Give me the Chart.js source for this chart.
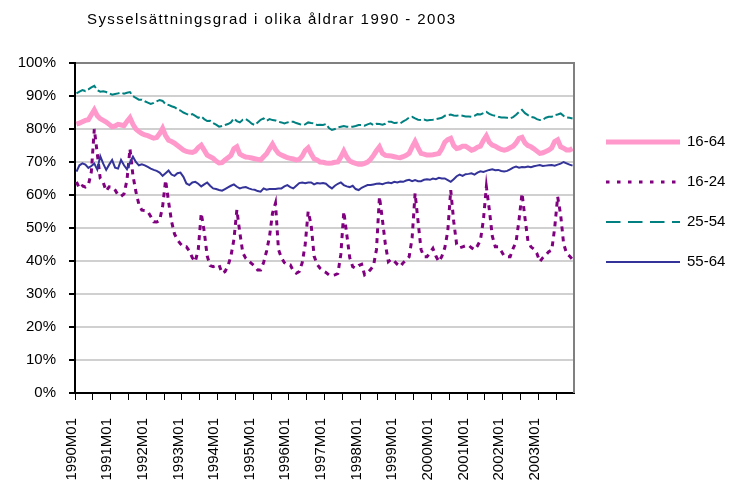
<!DOCTYPE html>
<html>
<head>
<meta charset="utf-8">
<script src="https://cdn.jsdelivr.net/npm/chart.js@4/dist/chart.umd.min.js"></script>
<style>
  html, body { margin: 0; padding: 0; background: #fff; }
  canvas { display: block; }
</style>
</head>
<body>
<canvas id="chart" width="733" height="486"></canvas>
<script>
// Sysselsättningsgrad (employment rate, %) per month, 1990M01 - 2003M12
const years = [1990, 1991, 1992, 1993, 1994, 1995, 1996, 1997, 1998, 1999, 2000, 2001, 2002, 2003];
const months = ["01", "02", "03", "04", "05", "06", "07", "08", "09", "10", "11", "12"];
const labels = [];
years.forEach((y) => months.forEach((m) => labels.push(y + "M" + m)));

const seriesNames = ["16-64", "16-24", "25-54", "55-64"];

// one row per year
const age1664 = [
  81.5, 81.8, 82.2, 82.6, 82.8, 84.3, 85.8, 84.0, 83.1, 82.6, 82.1, 81.4,
  80.7, 80.9, 81.4, 81.2, 81.0, 82.3, 83.4, 81.4, 80.0, 79.2, 78.6, 78.2,
  78.0, 77.6, 77.2, 77.4, 78.6, 80.2, 78.0, 76.6, 76.2, 75.7, 75.0, 74.3,
  73.6, 73.2, 73.0, 72.9, 73.3, 74.4, 75.1, 73.6, 72.1, 71.6, 71.1, 70.3,
  69.7, 69.8, 70.6, 71.3, 72.0, 74.0, 74.6, 72.4, 71.9, 71.5, 71.4, 71.2,
  71.0, 70.8, 70.6, 71.6, 72.5, 74.0, 75.4, 73.8, 72.6, 72.1, 71.7, 71.3,
  71.1, 70.9, 70.6, 70.8, 71.8, 73.5, 74.3, 72.5, 71.0, 70.6, 70.0, 69.9,
  69.7, 69.6, 69.7, 69.9, 70.0, 71.5, 73.3, 71.5, 70.3, 69.9, 69.6, 69.3,
  69.3, 69.6, 70.0, 70.8, 72.0, 73.4, 74.6, 72.6, 72.0, 71.9, 71.8, 71.6,
  71.4, 71.3, 71.6, 72.0, 72.6, 74.5, 76.2, 74.3, 72.6, 72.4, 72.1, 72.1,
  72.2, 72.4, 72.6, 74.0, 76.0, 76.8, 77.2, 75.0, 74.1, 74.3, 74.8, 74.8,
  74.2, 73.6, 73.9, 74.5, 74.8, 76.5, 77.9, 76.0, 75.1, 74.8, 74.2, 73.8,
  73.6, 73.8, 74.3, 74.8, 75.8, 77.2, 77.5, 75.8, 75.0, 74.6, 74.0, 73.3,
  72.6, 72.8, 73.2, 73.6, 74.3, 76.2, 76.7, 74.6, 74.2, 73.6, 73.6, 74.1
];

const age1624 = [
  64.0, 62.0, 62.8, 62.4, 63.0, 67.0, 80.0, 72.5, 65.0, 63.8, 61.2, 62.5,
  62.4, 61.5, 60.0, 59.6, 60.3, 64.5, 74.0, 66.0, 61.0, 57.2, 55.4, 55.3,
  55.0, 53.5, 51.9, 51.8, 52.3, 56.5, 64.5, 58.0, 52.0, 48.2, 46.4, 45.2,
  44.3, 44.3, 43.0, 41.0, 39.8, 43.5, 54.5, 49.0, 41.5, 38.6, 38.3, 38.6,
  38.8, 36.3, 36.8, 38.5, 41.5, 46.5, 55.5, 48.5, 42.5, 40.8, 40.0, 39.2,
  38.5, 37.3, 37.3, 39.5, 43.0, 47.5, 54.5, 57.5, 43.5, 41.0, 39.5, 38.8,
  38.8, 37.0, 36.3, 36.8, 39.5, 45.0, 55.0, 51.0, 41.5, 39.0, 37.8, 37.0,
  36.5, 35.8, 35.6, 35.8, 36.2, 42.0, 55.0, 48.0, 41.0, 38.3, 37.8, 38.6,
  39.0, 35.8, 36.4, 37.4, 38.6, 43.5, 59.5, 52.5, 45.0, 39.8, 40.6, 40.0,
  39.0, 38.3, 39.5, 40.3, 41.3, 47.0, 60.5, 52.0, 43.5, 41.3, 41.3, 42.5,
  43.8, 41.5, 39.8, 41.4, 44.0, 49.0, 61.5, 52.0, 45.0, 44.0, 44.3, 44.6,
  44.8, 44.0, 43.4, 44.6, 46.3, 52.5, 62.5, 55.5, 47.5, 44.3, 44.3, 43.0,
  41.5, 41.3, 41.3, 43.8, 45.8, 52.5, 60.5, 53.0, 46.0, 44.3, 43.6, 42.3,
  39.8, 41.0, 41.8, 42.8, 43.3, 50.0, 59.5, 54.0, 45.3, 42.3, 41.5, 40.5
];

const age2554 = [
  90.8, 91.3, 91.8, 91.5, 92.0, 92.6, 93.1, 91.8, 91.3, 91.4, 91.2, 90.8,
  90.4, 90.6, 90.8, 91.0, 90.7, 91.0, 91.2, 90.0, 89.4, 88.9, 88.9, 88.4,
  88.0, 87.6, 87.9, 88.4, 88.8, 88.5, 87.5, 87.3, 86.9, 86.6, 86.0, 85.6,
  85.0, 84.6, 84.2, 84.5, 84.0, 83.4, 83.8, 83.0, 82.4, 82.5, 81.8, 81.3,
  80.7, 80.9, 81.2, 81.5, 82.0, 83.2, 82.4, 82.0, 82.8, 83.0, 82.4, 81.6,
  81.2, 82.0, 82.8, 83.2, 82.5, 83.0, 82.7, 82.6, 82.2, 82.0, 81.7, 82.0,
  82.2, 82.2, 81.8, 81.5, 81.2, 81.4, 82.0, 81.8, 81.7, 81.2, 81.3, 81.2,
  81.5, 80.3, 79.7, 80.0, 80.5, 80.7, 80.9, 80.7, 80.6, 80.7, 80.9, 81.2,
  81.2, 81.0, 81.4, 81.7, 81.2, 81.6, 81.5, 81.3, 81.6, 82.2, 82.2, 81.8,
  81.9, 81.7, 82.3, 82.8, 83.5, 83.7, 83.2, 82.8, 82.7, 82.9, 82.6, 82.7,
  82.8, 83.0, 83.2, 83.4, 84.0, 84.2, 84.4, 84.1, 84.0, 84.2, 84.0, 83.8,
  83.8, 83.7, 84.0, 84.5, 84.4, 84.8, 85.2, 84.6, 84.2, 84.0, 83.7, 83.5,
  83.5, 83.4, 83.2, 83.6, 84.3, 85.2, 85.8, 84.8, 84.2, 83.7, 83.5, 83.0,
  82.7, 82.8, 83.4, 83.7, 83.7, 84.2, 84.4, 84.7, 84.0, 83.5, 83.4, 83.2
];

const age5564 = [
  67.1, 69.0, 69.6, 69.2, 68.2, 68.8, 69.5, 67.7, 71.8, 69.5, 67.6, 69.2,
  70.6, 68.3, 68.0, 70.6, 69.0, 67.8, 69.8, 71.6, 70.0, 69.0, 69.3, 69.0,
  68.5, 68.0, 67.6, 67.3, 66.8, 65.8, 66.6, 67.4, 66.2, 65.8, 66.6, 66.8,
  65.5, 63.5, 63.0, 63.8, 64.0, 63.4, 62.6, 63.2, 63.8, 62.8, 62.0, 61.8,
  61.5, 61.3, 61.8, 62.3, 62.8, 63.2, 62.5, 62.0, 62.3, 62.4, 62.0, 61.7,
  61.6, 61.2, 61.0, 62.0, 61.6, 61.8, 61.8, 61.8, 62.0, 62.0, 62.6, 63.0,
  62.4, 62.0, 62.8, 63.6, 63.8, 63.6, 63.8, 63.8, 63.2, 63.6, 63.5, 63.6,
  63.4, 62.6, 62.0, 62.8, 63.4, 63.8, 63.0, 62.6, 62.4, 62.8, 61.8, 61.5,
  62.2, 62.6, 63.0, 63.0, 63.2, 63.4, 63.5, 63.3, 63.6, 63.8, 63.6, 64.0,
  63.8, 64.1, 64.0, 64.4, 64.6, 64.2, 64.5, 64.2, 64.2, 64.6, 64.8, 64.6,
  65.0, 64.8, 65.2, 65.0, 65.0, 64.5, 64.0, 64.8, 65.7, 66.2, 65.8, 66.3,
  66.4, 66.6, 66.2, 66.8, 67.2, 67.0, 67.3, 67.6, 67.8, 67.5, 67.6, 67.3,
  67.1, 67.3, 67.8, 68.3, 68.6, 68.3, 68.5, 68.4, 68.6, 68.4, 68.7, 68.9,
  69.1, 68.8, 68.9, 69.0, 69.1, 68.9, 69.2, 69.5, 70.0, 69.6, 69.2, 68.9
];

const yTicks = [0, 10, 20, 30, 40, 50, 60, 70, 80, 90, 100];
const titleText = "Sysselsättningsgrad i olika åldrar 1990 - 2003";

const FONT = '"Liberation Sans", Arial, sans-serif';
Chart.defaults.font.family = FONT;
Chart.defaults.font.size = 15;
Chart.defaults.color = "#000";

// title, year labels, legend and plot border, placed where Excel put them
const decorations = {
  id: "decorations",
  afterDraw(chart) {
    const ctx = chart.ctx;
    const area = chart.chartArea;
    const xScale = chart.scales.x;
    ctx.save();

    // right border of plot area
    ctx.strokeStyle = "#808080";
    ctx.lineWidth = 2;
    ctx.beginPath();
    ctx.moveTo(area.right, area.top - 1);
    ctx.lineTo(area.right, area.bottom);
    ctx.stroke();

    ctx.font = "15px " + FONT;
    ctx.fillStyle = "#000";

    // title, spread letter by letter over the same width as the original
    ctx.textBaseline = "middle";
    ctx.textAlign = "left";
    const chars = Array.from(titleText);
    const plain = chars.reduce((s, ch) => s + ctx.measureText(ch).width, 0);
    const gap = (368 - plain) / (chars.length - 1);
    let tx = 87;
    chars.forEach((ch) => {
      ctx.fillText(ch, tx, 20);
      tx += ctx.measureText(ch).width + gap;
    });

    // x labels: one per year, rotated
    labels.forEach((lab, i) => {
      if (i % 12 !== 0) return;
      const x = xScale.getPixelForValue(i) - 5;
      ctx.save();
      ctx.translate(x, 418);
      ctx.rotate(-Math.PI / 2);
      ctx.textAlign = "right";
      ctx.textBaseline = "middle";
      ctx.fillText(lab, 0, 0);
      ctx.restore();
    });

    // legend
    const legendY = [142, 182, 222, 262];
    const legendDash = [[], [3.5, 7.5], [14.5, 7.5], []];
    ctx.textAlign = "left";
    ctx.textBaseline = "middle";
    chart.data.datasets.forEach((ds, i) => {
      const y = legendY[i];
      ctx.strokeStyle = ds.borderColor;
      ctx.lineWidth = ds.borderWidth;
      ctx.lineCap = "butt";
      ctx.setLineDash(legendDash[i]);
      ctx.beginPath();
      ctx.moveTo(606, y);
      ctx.lineTo(680, y);
      ctx.stroke();
      ctx.setLineDash([]);
      ctx.fillText(ds.label, 687, y);
    });

    ctx.restore();
  }
};

new Chart(document.getElementById("chart"), {
  type: "line",
  data: {
    labels: labels,
    datasets: [
      {
        label: seriesNames[0],
        data: age1664,
        borderColor: "#ff99cc",
        borderWidth: 5,
        order: 4
      },
      {
        label: seriesNames[1],
        data: age1624,
        borderColor: "#800080",
        borderWidth: 3,
        borderDash: [5, 5],
        order: 3
      },
      {
        label: seriesNames[2],
        data: age2554,
        borderColor: "#008080",
        borderWidth: 2,
        borderDash: [10, 3],
        order: 2
      },
      {
        label: seriesNames[3],
        data: age5564,
        borderColor: "#333399",
        borderWidth: 2,
        order: 1
      }
    ]
  },
  options: {
    responsive: false,
    animation: false,
    events: [],
    layout: { padding: { top: 63, right: 159, left: 0, bottom: 0 } },
    elements: {
      point: { radius: 0 },
      line: { tension: 0, fill: false, borderJoinStyle: "miter" }
    },
    plugins: {
      legend: { display: false },
      title: { display: false },
      tooltip: { enabled: false }
    },
    scales: {
      x: {
        offset: true,
        afterFit: (scale) => { scale.height = 93; },
        grid: {
          offset: true,
          drawOnChartArea: false,
          drawTicks: true,
          tickLength: 7,
          lineWidth: 1,
          color: (c) => (c.index % 6 === 0 ? "#000" : "rgba(0,0,0,0)")
        },
        border: { color: "#000", width: 2 },
        ticks: { display: false, autoSkip: false }
      },
      y: {
        min: 0,
        max: 100,
        afterFit: (scale) => { scale.width = 75; },
        afterBuildTicks: (scale) => { scale.ticks = yTicks.map((v) => ({ value: v })); },
        grid: {
          color: (c) => (c.tick && c.tick.value === 100 ? "#808080" : "#d0d0d0"),
          lineWidth: 2,
          tickColor: "#000",
          tickLength: 6
        },
        border: { color: "#000", width: 2 },
        ticks: {
          padding: 13,
          font: { size: 15 },
          callback: (v) => v + "%"
        }
      }
    }
  },
  plugins: [decorations]
});
</script>
</body>
</html>
